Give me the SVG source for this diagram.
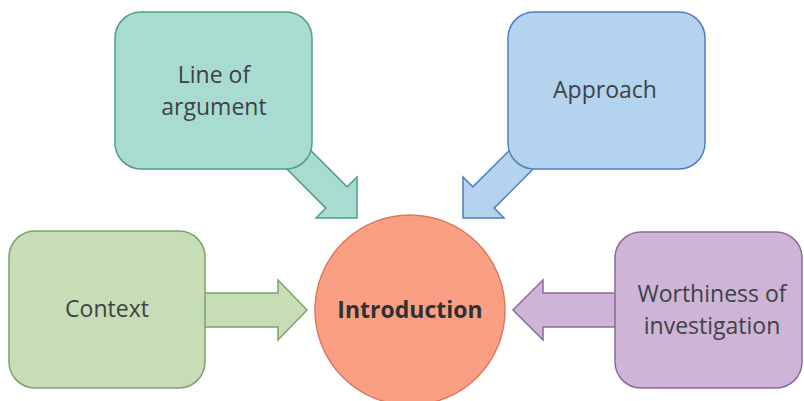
<svg xmlns="http://www.w3.org/2000/svg" width="804" height="401" viewBox="0 0 804 401">
<style>
.lbl{font-family:"Open Sans","Noto Sans",sans-serif;font-size:23px;fill:#3f4245;text-anchor:middle}
.box{stroke-width:1.5}
.teal{fill:#A8DCD1;stroke:#4E9E8E}
.blue{fill:#B4D3EF;stroke:#4F7FBC}
.green{fill:#C6DDB7;stroke:#78A46A}
.purple{fill:#CEB4D6;stroke:#8C6A98}
</style>
<rect width="804" height="401" fill="#ffffff"/>
<g id="connectors">
<polygon class="box teal" points="295.6,135.4 347.1,186.9 357,177 357,218 316,218 325.9,208.1 274.4,156.6"/>
<polygon class="box blue" points="524.4,135.4 472.9,186.9 463,177 463,218 504,218 494.1,208.1 545.6,156.6"/>
<polygon class="box green" points="195,293 278,293 278,280 307,310 278,340 278,327 195,327"/>
<polygon class="box purple" points="625,293 543,293 543,280 513,310 543,340 543,327 625,327"/>
</g>
<g id="line-of-argument">
<rect class="box teal" x="115" y="12" width="197" height="157" rx="26"/>
<text class="lbl" x="214" y="83">Line of</text>
<text class="lbl" x="214" y="115">argument</text>
</g>
<g id="approach">
<rect class="box blue" x="508" y="12" width="197" height="157" rx="26"/>
<text class="lbl" x="605" y="98">Approach</text>
</g>
<g id="context">
<rect class="box green" x="9" y="231" width="196" height="157" rx="26"/>
<text class="lbl" x="107" y="317">Context</text>
</g>
<g id="worthiness">
<rect class="box purple" x="615" y="232" width="187" height="156" rx="26"/>
<text class="lbl" x="712" y="302">Worthiness of</text>
<text class="lbl" x="712" y="334">investigation</text>
</g>
<g id="introduction">
<circle cx="410" cy="310" r="95" fill="#F9A084" stroke="#E0765A" stroke-width="1.5"/>
<text x="410" y="318" font-family="'Open Sans','Noto Sans',sans-serif" font-size="23" font-weight="bold" fill="#2e3135" text-anchor="middle">Introduction</text>
</g>
</svg>
